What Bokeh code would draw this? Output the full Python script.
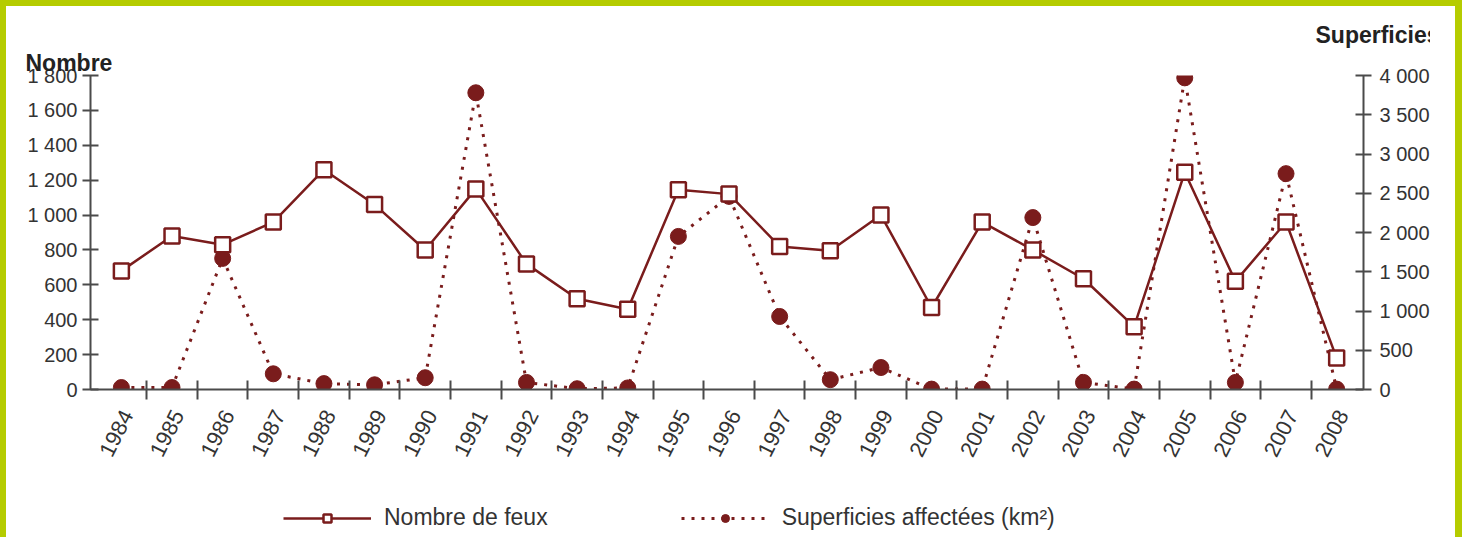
from bokeh.plotting import figure
from bokeh.layouts import column
from bokeh.models import (Range1d, LinearAxis, FixedTicker, Legend, LegendItem, Title)
from bokeh.embed import file_html
from bokeh.resources import INLINE

years = list(range(1984, 2009))
nombre_feux = [680, 880, 830, 960, 1260, 1060, 800, 1150, 720, 520, 460, 1145, 1120,
               820, 795, 1000, 470, 960, 800, 635, 360, 1245, 620, 960, 180]
superficies = [25, 25, 1670, 200, 75, 60, 150, 3780, 90, 10, 20, 1950, 2460,
               930, 125, 280, 5, 5, 2190, 90, 5, 3970, 90, 2750, 5]

left_ticks = [0, 200, 400, 600, 800, 1000, 1200, 1400, 1600, 1800]
left_labels = ["0", "200", "400", "600", "800", "1 000", "1 200", "1 400", "1 600", "1 800"]
right_ticks = [0, 500, 1000, 1500, 2000, 2500, 3000, 3500, 4000]
right_labels = ["0", "500", "1 000", "1 500", "2 000", "2 500", "3 000", "3 500", "4 000"]

MAROON = "#7a1c1c"
AXIS = "#4a4a4a"
TXT = "#333333"
FONT = "Liberation Sans"
GREEN = "#b5cc00"

p = figure(width=1462, height=469, output_backend="svg", toolbar_location=None,
           x_range=Range1d(1983.39, 2008.53), y_range=Range1d(0, 1800),
           min_border_left=84, min_border_right=105, min_border_top=69, min_border_bottom=86,
           background_fill_color="white", border_fill_color="white",
           outline_line_color=None,
           styles={"border-top": f"6px solid {GREEN}", "border-left": f"6px solid {GREEN}",
                   "border-right": f"7px solid {GREEN}", "padding-right": "25px"})
p.xgrid.visible = False
p.ygrid.visible = False
p.extra_y_ranges = {"sup": Range1d(0, 4000)}

# x axis: separators between years, labels slightly right of each year
label_pos = [y + 0.12 for y in years]
xa = p.xaxis[0]
xa.ticker = FixedTicker(ticks=label_pos, minor_ticks=[y + 0.5 for y in years[:-1]])
xa.major_label_overrides = {pos: str(y) for pos, y in zip(label_pos, years)}
xa.major_tick_in = 0
xa.major_tick_out = 0
xa.minor_tick_in = 9
xa.minor_tick_out = 10
xa.minor_tick_line_color = AXIS
xa.minor_tick_line_width = 2
xa.axis_line_color = AXIS
xa.axis_line_width = 2
xa.major_label_orientation = 1.1
xa.major_label_standoff = 12
xa.major_label_text_font = FONT
xa.major_label_text_font_size = "22px"
xa.major_label_text_color = TXT

# left axis
ya = p.yaxis[0]
ya.ticker = FixedTicker(ticks=left_ticks)
ya.major_label_overrides = {t: s for t, s in zip(left_ticks, left_labels)}
ya.minor_tick_line_color = None
ya.major_tick_in = 8
ya.major_tick_out = 8
ya.major_tick_line_color = AXIS
ya.major_tick_line_width = 2
ya.axis_line_color = AXIS
ya.axis_line_width = 2
ya.major_label_standoff = 5
ya.major_label_text_font = FONT
ya.major_label_text_font_size = "20px"
ya.major_label_text_color = TXT

# right axis
ra = LinearAxis(y_range_name="sup")
ra.ticker = FixedTicker(ticks=right_ticks)
ra.major_label_overrides = {t: s for t, s in zip(right_ticks, right_labels)}
ra.minor_tick_line_color = None
ra.major_tick_in = 8
ra.major_tick_out = 8
ra.major_tick_line_color = AXIS
ra.major_tick_line_width = 2
ra.axis_line_color = AXIS
ra.axis_line_width = 2
ra.major_label_standoff = 8
ra.major_label_text_font = FONT
ra.major_label_text_font_size = "20px"
ra.major_label_text_color = TXT
p.add_layout(ra, "right")

# series
p.line(years, superficies, y_range_name="sup", line_color=MAROON, line_width=3,
       line_dash="3 7")
p.scatter(years, superficies, y_range_name="sup", marker="circle", size=16,
          fill_color=MAROON, line_color=MAROON)
p.line(years, nombre_feux, line_color=MAROON, line_width=2.5)
p.scatter(years, nombre_feux, marker="square", size=15, fill_color="white",
          line_color=MAROON, line_width=2.5)

# axis titles (side-panel titles, offsets relative to the plot frame's left edge)
t_left = Title(text="Nombre", align="left", offset=-65, standoff=0,
               text_font=FONT, text_font_size="23px", text_font_style="bold",
               text_color="#222222")
t_right = Title(text="Superficies", align="left", offset=1225, standoff=0,
                text_font=FONT, text_font_size="23px", text_font_style="bold",
                text_color="#222222")
p.add_layout(t_left, "above")
p.add_layout(t_right, "above")

# legend strip below the chart: same series, drawn outside its visible ranges,
# so only their legend samples show
leg = figure(width=1462, height=68, output_backend="svg", toolbar_location=None,
             x_range=Range1d(0, 1), y_range=Range1d(0, 1),
             x_axis_type=None, y_axis_type=None, min_border=0,
             background_fill_color="white", border_fill_color="white",
             outline_line_color=None,
             styles={"border-left": f"6px solid {GREEN}",
                     "border-right": f"7px solid {GREEN}", "padding-right": "25px"})
g1 = leg.line(years, nombre_feux, line_color=MAROON, line_width=2.5)
g2 = leg.scatter(years, nombre_feux, marker="square", size=15, fill_color="white",
                 line_color=MAROON, line_width=2.5)
g3 = leg.line(years, superficies, line_color=MAROON, line_width=3, line_dash="3 7")
g4 = leg.scatter(years, superficies, marker="circle", size=16,
                 fill_color=MAROON, line_color=MAROON)

legend = Legend(items=[LegendItem(label="Nombre de feux", renderers=[g1, g2]),
                       LegendItem(label="Superficies affectées (km²)", renderers=[g3, g4])],
                orientation="horizontal", location=(193, 6),
                glyph_width=88, glyph_height=20, label_height=20, label_standoff=13,
                spacing=133, padding=0, margin=0,
                border_line_color=None, background_fill_alpha=0,
                label_text_font=FONT, label_text_font_size="23px", label_text_color=TXT)
leg.add_layout(legend, "center")

layout = column(p, leg, spacing=0)

open("out.html", "w").write(file_html(layout, INLINE))
